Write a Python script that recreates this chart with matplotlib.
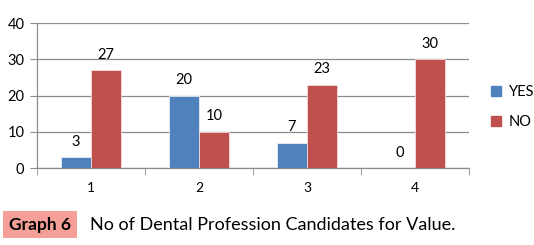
import matplotlib
import matplotlib.pyplot as plt
from matplotlib.patches import Patch, Rectangle
import numpy as np

matplotlib.use('Agg')

# данные графика
categories = ['1', '2', '3', '4']
yes_values = [3, 20, 7, 0]
no_values = [27, 10, 23, 30]

blue = '#4F81BD'
red = '#C0504D'
grid_c = '#8C8C8C'

plt.rcParams['font.family'] = ['Lato', 'DejaVu Sans']

W, H = 534, 245
fig = plt.figure(figsize=(W / 100, H / 100), dpi=100)
ax = fig.add_axes([37 / W, 1 - 168 / H, 432 / W, 145 / H])

x = np.arange(len(categories))
w = 0.28
b1 = ax.bar(x - w / 2, yes_values, w, color=blue, edgecolor='#E8EEF7', linewidth=0.6, zorder=3)
b2 = ax.bar(x + w / 2, no_values, w, color=red, edgecolor='#F2DCDB', linewidth=0.6, zorder=3)

for rect, v in zip(b1, yes_values):
    ax.text(rect.get_x() + rect.get_width() / 2, v + 2.3, str(v), ha='center', va='bottom', fontsize=10.5)
for rect, v in zip(b2, no_values):
    ax.text(rect.get_x() + rect.get_width() / 2, v + 2.3, str(v), ha='center', va='bottom', fontsize=10.5)

ax.set_xlim(-0.5, len(categories) - 0.5)
ax.set_ylim(0, 40)
ax.set_yticks([0, 10, 20, 30, 40])
ax.yaxis.grid(True, color=grid_c, linewidth=0.9, zorder=0)
ax.set_axisbelow(True)

ax.set_xticks(x)
ax.set_xticklabels(categories, fontsize=10)
ax.tick_params(axis='x', length=0, pad=10)
ax.set_xticks(np.arange(-0.5, len(categories)), minor=True)
ax.tick_params(axis='x', which='minor', length=5, color=grid_c)
ax.tick_params(axis='y', length=5, color=grid_c, labelsize=10.5, pad=4)

for s in ['top', 'right']:
    ax.spines[s].set_visible(False)
for s in ['left', 'bottom']:
    ax.spines[s].set_color(grid_c)
    ax.spines[s].set_linewidth(0.9)

handles = [Patch(color=blue, label='YES'), Patch(color=red, label='NO')]
fig.legend(handles=handles, loc='center left', bbox_to_anchor=(491 / W, 1 - 107 / H),
           frameon=False, fontsize=10.5, handlelength=0.7, handleheight=0.7,
           handletextpad=0.5, labelspacing=1.1, borderpad=0, borderaxespad=0)

# подпись под графиком
fig.patches.append(Rectangle((3 / W, 1 - 238 / H), 74 / W, 27 / H, transform=fig.transFigure,
                             facecolor='#F4A099', edgecolor='none'))
fig.text(40 / W, 1 - 224.5 / H, 'Graph 6', fontsize=12.5, fontweight='bold', va='center', ha='center')
fig.text(90 / W, 1 - 224.5 / H, 'No of Dental Profession Candidates for Value.',
         fontsize=13, va='center', ha='left')

fig.savefig('out.png', dpi=100)
plt.close(fig)
